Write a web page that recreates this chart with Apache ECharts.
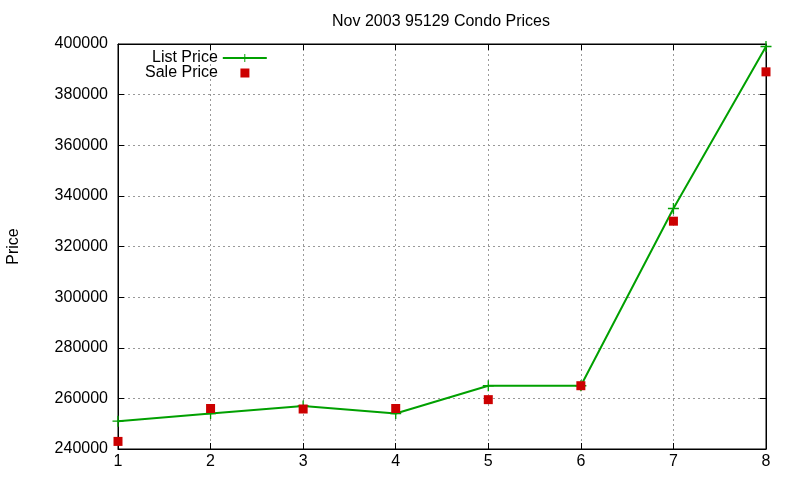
<!DOCTYPE html>
<html>
<head>
<meta charset="utf-8">
<script src="https://cdn.jsdelivr.net/npm/echarts@6/dist/echarts.min.js"></script>
<style>
html,body{margin:0;padding:0;background:#fff;}
#chart{width:800px;height:480px;}
</style>
</head>
<body>
<div id="chart"></div>
<script>
var months = [1, 2, 3, 4, 5, 6, 7, 8];
var listPrice = [251000, 254000, 257000, 254000, 265000, 265000, 335000, 399000];
var salePrice = [243000, 256000, 255800, 256000, 259500, 265000, 330000, 389000];
var yTicks = [240000, 400000, 20000];

var chart = echarts.init(document.getElementById('chart'));
var font = 'Liberation Sans, Arial, sans-serif';
var plus = 'path://M-0.12,-1L0.12,-1L0.12,-0.12L1,-0.12L1,0.12L0.12,0.12L0.12,1L-0.12,1L-0.12,0.12L-1,0.12L-1,-0.12L-0.12,-0.12Z';
var square = 'path://M0,0L1,0L1,1L0,1Z';

function pairs(vals) {
    return months.map(function (m, i) { return [m, vals[i]]; });
}

var txt = {fontFamily: font, fontSize: 16, color: '#000'};

var option = {
    animation: false,
    title: {
        text: 'Nov 2003 95129 Condo Prices',
        left: 436, top: 9, textAlign: 'center',
        textStyle: {fontFamily: font, fontSize: 16, fontWeight: 'normal', color: '#000'}
    },
    legend: [{
        left: 152, top: 50, align: 'right',
        itemWidth: 44, itemHeight: 10, padding: 0,
        textStyle: txt,
        data: ['List Price']
    }, {
        left: 145, top: 65, align: 'right',
        itemWidth: 44, itemHeight: 9, padding: 0,
        symbolKeepAspect: true,
        textStyle: txt,
        data: [{name: 'Sale Price', icon: square}]
    }],
    grid: {left: 118, right: 34, top: 44, bottom: 31, show: true, borderColor: '#000', borderWidth: 1,
        containLabel: false, outerBoundsMode: 'none'},
    xAxis: [{
        type: 'value', min: 1, max: 8, interval: 1,
        axisLine: {show: true, lineStyle: {color: '#000'}},
        axisTick: {inside: true, length: 6, lineStyle: {color: '#000'}},
        axisLabel: {fontFamily: font, fontSize: 16, color: '#000', margin: 5},
        splitLine: {show: true, lineStyle: {color: '#999', type: [2, 3]}}
    }, {
        type: 'value', min: 1, max: 8, interval: 1, position: 'top',
        axisLine: {show: true, lineStyle: {color: '#000'}},
        axisTick: {inside: true, length: 6, lineStyle: {color: '#000'}},
        axisLabel: {show: false}, splitLine: {show: false}
    }],
    yAxis: [{
        type: 'value', min: yTicks[0], max: yTicks[1], interval: yTicks[2],
        name: 'Price', nameLocation: 'middle', nameGap: 96, nameRotate: 90,
        nameTextStyle: {fontFamily: font, fontSize: 16, color: '#000'},
        axisLine: {show: true, lineStyle: {color: '#000'}},
        axisTick: {inside: true, length: 6, lineStyle: {color: '#000'}},
        axisLabel: {fontFamily: font, fontSize: 16, color: '#000', margin: 10,
            formatter: function (v) { return String(v); }},
        splitLine: {show: true, lineStyle: {color: '#999', type: [2, 3]}}
    }, {
        type: 'value', min: yTicks[0], max: yTicks[1], interval: yTicks[2], position: 'right',
        axisLine: {show: true, lineStyle: {color: '#000'}},
        axisTick: {inside: true, length: 6, lineStyle: {color: '#000'}},
        axisLabel: {show: false}, splitLine: {show: false}
    }],
    series: [{
        name: 'List Price', type: 'line',
        data: pairs(listPrice),
        symbol: plus, symbolSize: 11, showAllSymbol: true,
        lineStyle: {color: '#00a000', width: 2},
        itemStyle: {color: '#00a000'},
        z: 2
    }, {
        name: 'Sale Price', type: 'scatter',
        data: pairs(salePrice),
        symbol: 'rect', symbolSize: 9,
        itemStyle: {color: '#cc0000', opacity: 1},
        z: 3
    }]
};
chart.setOption(option);
</script>
</body>
</html>
